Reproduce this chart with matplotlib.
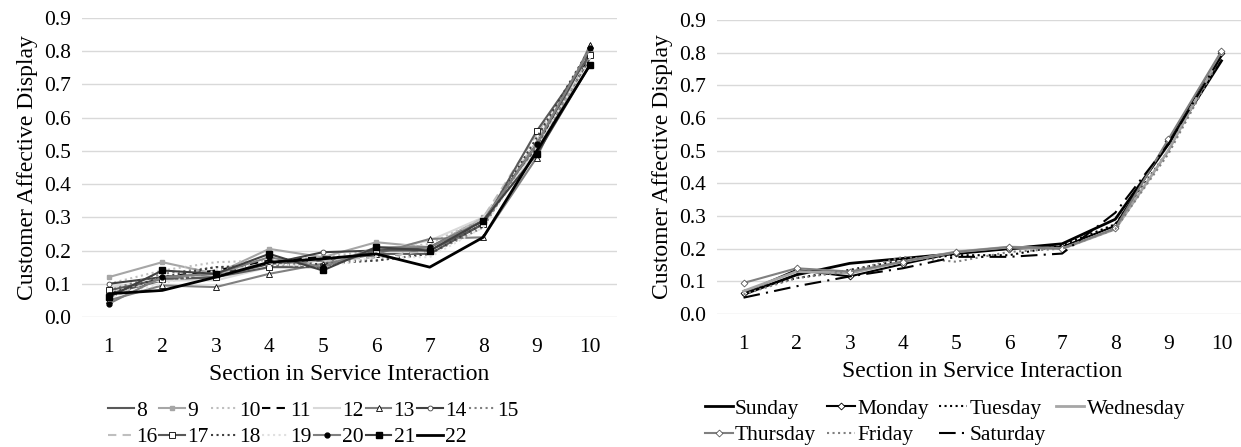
import numpy as np
import matplotlib
matplotlib.use("Agg")
import matplotlib.pyplot as plt

plt.rcParams['font.family'] = ['Liberation Serif', 'DejaVu Serif']

#data#
sections = [1, 2, 3, 4, 5, 6, 7, 8, 9, 10]

hours = ["8", "9", "10", "11", "12", "13", "14", "15",
         "16", "17", "18", "19", "20", "21", "22"]
h8  = [0.07, 0.11, 0.12, 0.16, 0.17, 0.19, 0.19, 0.28, 0.51, 0.78]
h9  = [0.12, 0.165, 0.13, 0.205, 0.18, 0.225, 0.21, 0.30, 0.50, 0.79]
h10 = [0.10, 0.14, 0.165, 0.17, 0.18, 0.20, 0.22, 0.30, 0.53, 0.80]
h11 = [0.06, 0.12, 0.14, 0.17, 0.18, 0.18, 0.20, 0.29, 0.52, 0.79]
h12 = [0.09, 0.11, 0.11, 0.15, 0.16, 0.20, 0.23, 0.30, 0.50, 0.80]
h13 = [0.05, 0.095, 0.09, 0.13, 0.16, 0.19, 0.235, 0.24, 0.48, 0.82]
h14 = [0.10, 0.12, 0.13, 0.16, 0.195, 0.20, 0.21, 0.29, 0.52, 0.80]
h15 = [0.08, 0.13, 0.15, 0.155, 0.17, 0.17, 0.19, 0.27, 0.53, 0.81]
h16 = [0.06, 0.12, 0.13, 0.165, 0.17, 0.18, 0.20, 0.30, 0.55, 0.80]
h17 = [0.08, 0.115, 0.12, 0.15, 0.15, 0.20, 0.20, 0.28, 0.56, 0.79]
h18 = [0.07, 0.12, 0.15, 0.155, 0.16, 0.17, 0.19, 0.28, 0.54, 0.81]
h19 = [0.06, 0.10, 0.14, 0.16, 0.15, 0.18, 0.18, 0.27, 0.51, 0.78]
h20 = [0.04, 0.12, 0.13, 0.18, 0.15, 0.21, 0.21, 0.29, 0.52, 0.81]
h21 = [0.06, 0.14, 0.13, 0.19, 0.14, 0.21, 0.20, 0.29, 0.49, 0.76]
h22 = [0.07, 0.08, 0.12, 0.165, 0.175, 0.19, 0.15, 0.24, 0.50, 0.76]

days = ["Sunday", "Monday", "Tuesday", "Wednesday", "Thursday", "Friday", "Saturday"]
sun = [0.06, 0.12, 0.155, 0.17, 0.185, 0.20, 0.215, 0.29, 0.52, 0.775]
mon = [0.065, 0.135, 0.115, 0.153, 0.188, 0.20, 0.205, 0.27, 0.53, 0.80]
tue = [0.07, 0.11, 0.135, 0.165, 0.18, 0.18, 0.21, 0.275, 0.50, 0.79]
wed = [0.07, 0.13, 0.125, 0.16, 0.19, 0.205, 0.20, 0.26, 0.50, 0.80]
thu = [0.095, 0.14, 0.13, 0.16, 0.19, 0.205, 0.20, 0.262, 0.535, 0.805]
fri = [0.06, 0.11, 0.13, 0.175, 0.16, 0.19, 0.20, 0.26, 0.49, 0.79]
sat = [0.05, 0.085, 0.115, 0.14, 0.175, 0.175, 0.185, 0.31, 0.52, 0.79]

#styles#
hour_vals = [h8, h9, h10, h11, h12, h13, h14, h15, h16, h17, h18, h19, h20, h21, h22]
hour_style = [
    dict(color="#595959", ls="-"),
    dict(color="#a6a6a6", ls="-", marker="s", ms=3, mfc="#a6a6a6", mec="#a6a6a6"),
    dict(color="#bfbfbf", ls=":"),
    dict(color="#000000", ls=(0, (4, 3))),
    dict(color="#d9d9d9", ls="-"),
    dict(color="#808080", ls="-", marker="^", ms=4, mfc="white", mec="#000000", mew=0.6),
    dict(color="#404040", ls="-", marker="o", ms=3.5, mfc="white", mec="#404040", mew=0.6),
    dict(color="#808080", ls=":"),
    dict(color="#bfbfbf", ls=(0, (4, 3))),
    dict(color="#595959", ls="-", marker="s", ms=4, mfc="white", mec="#000000", mew=0.6),
    dict(color="#404040", ls=":"),
    dict(color="#e0e0e0", ls=":"),
    dict(color="#808080", ls="-", marker="o", ms=3.5, mfc="#000000", mec="#000000"),
    dict(color="#404040", ls="-", marker="s", ms=4, mfc="#000000", mec="#000000"),
    dict(color="#000000", ls="-", lw=2),
]

day_vals = [sun, mon, tue, wed, thu, fri, sat]
day_style = [
    dict(color="#000000", ls="-", lw=2),
    dict(color="#000000", ls="-", marker="D", ms=3.5, mfc="white", mec="#000000", mew=0.6),
    dict(color="#000000", ls=":"),
    dict(color="#a6a6a6", ls="-", lw=2),
    dict(color="#808080", ls="-", marker="D", ms=3.5, mfc="white", mec="#595959", mew=0.6),
    dict(color="#808080", ls=":"),
    dict(color="#000000", ls=(0, (8, 3, 1, 3))),
]

fig = plt.figure(figsize=(12.41, 4.47), dpi=100)
ax1 = fig.add_axes([82/1241, 1-317/447, 535/1241, 299/447])
ax2 = fig.add_axes([717/1241, 1-314/447, 531/1241, 294/447])


def draw(ax, vals, styles, names):
    lines = []
    for v, s, n in zip(vals, styles, names):
        st = dict(lw=1.5)
        st.update(s)
        ln, = ax.plot(sections, v, label=n, zorder=3, **st)
        lines.append(ln)
    ax.set_xlim(0.5, 10.5)
    ax.set_ylim(0, 0.9)
    ax.set_yticks(np.arange(0, 0.91, 0.1))
    ax.set_yticklabels(["%.1f" % t for t in np.arange(0, 0.91, 0.1)])
    ax.set_xticks(sections)
    ax.grid(axis="y", color="#d9d9d9", lw=1, zorder=0)
    for sp in ax.spines.values():
        sp.set_visible(False)
    ax.tick_params(axis="x", length=0, labelsize=15.5, pad=15)
    ax.tick_params(axis="y", length=0, labelsize=15.5, pad=8)
    ax.set_xlabel("Section in Service Interaction", size=17, labelpad=5)
    ax.set_ylabel("Customer Affective Display", size=17, labelpad=4)
    return lines


l1 = draw(ax1, hour_vals, hour_style, hours)
l2 = draw(ax2, day_vals, day_style, days)

# legend row-wise order
order1 = []
for j in range(7):
    order1 += [j, j + 8]
order1.append(7)
fig.legend([l1[i] for i in order1], [hours[i] for i in order1],
           loc="center", bbox_to_anchor=(313/1241, 1-424/447), ncol=8,
           frameon=False, fontsize=15.5, handlelength=1.2, handletextpad=0.1,
           columnspacing=0.1, labelspacing=0.3, borderpad=0)

order2 = [0, 4, 1, 5, 2, 6, 3]
fig.legend([l2[i] for i in order2], [days[i] for i in order2],
           loc="center", bbox_to_anchor=(945/1241, 1-422/447), ncol=4,
           frameon=False, fontsize=15.5, handlelength=1.3, handletextpad=0.1,
           columnspacing=0.5, labelspacing=0.3, borderpad=0)

plt.savefig("out.png", dpi=100)
